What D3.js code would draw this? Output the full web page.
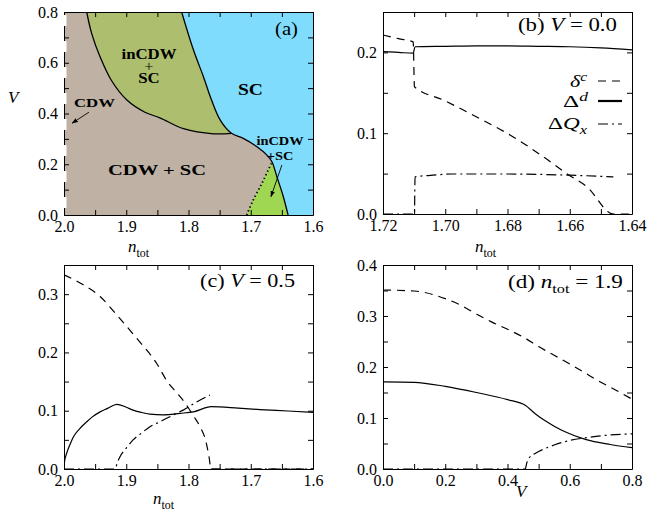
<!DOCTYPE html>
<html>
<head>
<meta charset="utf-8">
<script src="https://cdn.jsdelivr.net/npm/d3@7"></script>
<style>
  body { margin: 0; background: #fff; }
  svg { display: block; }
  text { font-family: "Liberation Serif", "DejaVu Serif", serif; fill: #000; }
</style>
</head>
<body>
<svg id="fig" width="648" height="515"></svg>
<script>
// ---------- data ----------
// (a) phase diagram, points are [n_tot, V]
var boundaryCdwIncdw = [[1.9635,0.80],[1.9555,0.715],[1.942,0.623],[1.924,0.531],[1.899,0.453],[1.870,0.405],[1.846,0.383],[1.808,0.340],[1.760,0.320],[1.731,0.322]];
var boundaryScTop    = [[1.811,0.80],[1.792,0.65],[1.776,0.545],[1.763,0.453],[1.749,0.374],[1.731,0.322]];
var boundaryScBottom = [[1.712,0.302],[1.690,0.269],[1.674,0.236],[1.666,0.21],[1.658,0.151],[1.648,0.075],[1.640,0.0]];
var boundaryDotted   = [[1.7065,0.0],[1.696,0.059],[1.682,0.125],[1.672,0.177],[1.666,0.207]];

// (b) V = 0.0, points are [n_tot, value]
var bDeltaC = [[1.72,0.2215],[1.715,0.217],[1.7103,0.213],[1.7099,0.1575],[1.7006,0.141],[1.6899,0.120],[1.6792,0.0978],[1.6685,0.0709],[1.661,0.050],[1.6545,0.0338],[1.646,0.0],[1.64,0.0]];
var bDeltaD = [[1.72,0.201],[1.715,0.200],[1.7103,0.199],[1.7097,0.207],[1.70,0.2075],[1.69,0.208],[1.68,0.208],[1.67,0.2075],[1.66,0.207],[1.65,0.2055],[1.64,0.203]];
var bDQx    = [[1.72,0.0],[1.7099,0.0],[1.7097,0.046],[1.704,0.048],[1.698,0.0495],[1.68,0.0495],[1.66,0.048],[1.646,0.046]];

// (c) V = 0.5
var cDeltaC = [[2.0,0.333],[1.969,0.316],[1.942,0.296],[1.915,0.264],[1.883,0.224],[1.851,0.181],[1.834,0.150],[1.819,0.131],[1.806,0.114],[1.792,0.091],[1.7815,0.0726],[1.772,0.047],[1.7666,0.018],[1.764,0.0],[1.6,0.0]];
var cDeltaD = [[2.0,0.0],[1.999,0.014],[1.9957,0.027],[1.99,0.043],[1.985,0.055],[1.975,0.069],[1.9635,0.081],[1.955,0.089],[1.942,0.098],[1.93,0.104],[1.915,0.111],[1.90,0.106],[1.889,0.101],[1.875,0.097],[1.862,0.094],[1.8405,0.093],[1.8137,0.0955],[1.792,0.098],[1.7635,0.107],[1.72,0.1045],[1.685,0.102],[1.64,0.0995],[1.60,0.097]];
var cDQx    = [[2.0,0.0],[1.918,0.0],[1.914,0.012],[1.91,0.021],[1.9,0.036],[1.889,0.050],[1.875,0.062],[1.862,0.0726],[1.848,0.080],[1.835,0.087],[1.82,0.095],[1.8084,0.101],[1.787,0.115],[1.7655,0.127]];
var cDQxTail = [[1.764,0.0],[1.6,0.0]];

// (d) n_tot = 1.9, points are [V, value]
var dDeltaC = [[0,0.351],[0.1,0.349],[0.2,0.334],[0.25,0.321],[0.3,0.304],[0.35,0.288],[0.4,0.274],[0.45,0.259],[0.5,0.24],[0.55,0.223],[0.6,0.206],[0.65,0.188],[0.7,0.170],[0.75,0.154],[0.8,0.137]];
var dDeltaD = [[0,0.171],[0.1,0.170],[0.2,0.162],[0.3,0.150],[0.4,0.136],[0.457,0.125],[0.49,0.108],[0.52,0.095],[0.55,0.084],[0.585,0.073],[0.65,0.058],[0.73,0.048],[0.8,0.042]];
var dDQx    = [[0,0.0],[0.457,0.0],[0.462,0.012],[0.47,0.022],[0.49,0.031],[0.52,0.040],[0.55,0.047],[0.6,0.056],[0.65,0.061],[0.7,0.065],[0.8,0.069]];

// colours of the phases
var colCdwSc = "#bfb1a3", colIncdw = "#adbe6e", colSc = "#80dcfc", colIncdw2 = "#9fd752";

var DASH = "8,6", DASHDOT = "10,4,2,4";

var svg = d3.select("#fig");

// ---------- helpers ----------
function tickList(dom, step) {
  var lo = Math.min(dom[0], dom[1]), hi = Math.max(dom[0], dom[1]);
  var n = Math.round((hi - lo) / step);
  return d3.range(n + 1).map(function(i) { return +(lo + i * step).toFixed(6); });
}
function isMajor(v, step) { return Math.abs(v / step - Math.round(v / step)) < 1e-6; }

// text with italic / sub / sup pieces, optionally squeezed to a width
function rich(parent, x, y, parts, o) {
  o = o || {};
  var fs = o.size || 16;
  var t = parent.append("text").attr("font-size", fs);
  if (o.bold) t.attr("font-weight", "bold");
  var cur = 0;
  parts.forEach(function(p) {
    if (typeof p === "string") p = {t: p};
    var ts = t.append("tspan").text(p.t);
    var want = p.sub ? fs * 0.3 : (p.sup ? -fs * 0.38 : 0);
    if (want !== cur) { ts.attr("dy", want - cur); cur = want; }
    if (p.sub || p.sup) ts.attr("font-size", fs * 0.7);
    if (p.i) ts.attr("font-style", "italic");
    if (p.dx) ts.attr("dx", p.dx);
  });
  var s = 1;
  if (o.w) { s = o.w / t.node().getBBox().width; }
  var x0 = x;
  if (o.anchor === "end") x0 = x - (o.w || t.node().getBBox().width);
  if (o.anchor === "middle") x0 = x - (o.w || t.node().getBBox().width) / 2;
  t.attr("transform", "translate(" + x0 + "," + y + ") scale(" + s + ",1)");
  return t;
}

// several centred lines in one text element
function stacked(parent, cx, y, lines, sx) {
  var t = parent.append("text").attr("text-anchor", "middle")
    .attr("transform", "translate(" + cx + "," + y + ") scale(" + sx + ",1)");
  lines.forEach(function(l, i) {
    t.append("tspan").attr("x", 0).attr("dy", i ? l.dy : 0)
      .attr("font-size", l.size).attr("font-weight", l.bold ? "bold" : null).text(l.t);
  });
  return t;
}

var panelId = 0;
function makePanel(p) {
  var x = d3.scaleLinear().domain(p.xd).range([p.x0, p.x1]);
  var y = d3.scaleLinear().domain(p.yd).range([p.y1, p.y0]);
  var g = svg.append("g");
  var cid = "clip" + (panelId++);
  svg.append("clipPath").attr("id", cid).append("rect")
    .attr("x", p.x0).attr("y", p.y0).attr("width", p.x1 - p.x0).attr("height", p.y1 - p.y0);
  var plot = g.append("g").attr("clip-path", "url(#" + cid + ")");
  return {p: p, x: x, y: y, g: g, plot: plot};
}

function drawAxes(P) {
  var p = P.p, x = P.x, y = P.y;
  var xt = tickList(p.xd, p.xs), yt = tickList(p.yd, p.ys);
  var ax = P.g.append("g");
  ax.append("g").attr("transform", "translate(0," + p.y1 + ")")
    .call(d3.axisBottom(x).tickValues(xt).tickSize(-5).tickSizeOuter(0).tickPadding(6)
      .tickFormat(function(v) { return isMajor(v, p.xl) ? d3.format(p.xf)(v) : ""; }));
  ax.append("g").attr("transform", "translate(0," + p.y0 + ")")
    .call(d3.axisTop(x).tickValues(xt).tickSize(-5).tickSizeOuter(0).tickFormat(""));
  ax.append("g").attr("transform", "translate(" + p.x0 + ",0)")
    .call(d3.axisLeft(y).tickValues(yt).tickSize(-5).tickSizeOuter(0).tickPadding(6)
      .tickFormat(function(v) { return isMajor(v, p.yl) ? d3.format(p.yf)(v) : ""; }));
  ax.append("g").attr("transform", "translate(" + p.x1 + ",0)")
    .call(d3.axisRight(y).tickValues(yt).tickSize(-5).tickSizeOuter(0).tickFormat(""));
  ax.selectAll("g").attr("font-family", null).attr("font-size", 16);
  ax.selectAll("path.domain").attr("stroke", "#000").attr("stroke-width", 1);
  ax.selectAll(".tick line").attr("stroke", "#000").attr("stroke-width", 1);
}

function curve(P, data, dash, width) {
  P.plot.append("path").datum(data)
    .attr("d", d3.line().x(function(d) { return P.x(d[0]); }).y(function(d) { return P.y(d[1]); })
      .curve(d3.curveMonotoneX))
    .attr("fill", "none").attr("stroke", "#000")
    .attr("stroke-width", width || 1.2)
    .attr("stroke-dasharray", dash || null);
}

// arrow head
svg.append("defs").append("marker").attr("id", "arr")
  .attr("viewBox", "0 0 10 10").attr("refX", 9).attr("refY", 5)
  .attr("markerWidth", 7).attr("markerHeight", 7).attr("orient", "auto")
  .append("path").attr("d", "M0,1.5 L10,5 L0,8.5 Z").attr("fill", "#000");

// ---------- panel (a): phase diagram ----------
var A = makePanel({x0: 64, x1: 313, y0: 12, y1: 215, xd: [2.0, 1.6], yd: [0, 0.8],
  xs: 0.05, xl: 0.1, xf: ".1f", ys: 0.1, yl: 0.2, yf: ".1f"});
var bline = d3.line().x(function(d) { return A.x(d[0]); }).y(function(d) { return A.y(d[1]); })
  .curve(d3.curveCatmullRom);
var scBoundary = boundaryScTop.concat(boundaryScBottom);

A.plot.append("rect").attr("x", 64).attr("y", 12).attr("width", 249).attr("height", 203).attr("fill", colCdwSc);
// inCDW + SC (upper)
A.plot.append("path")
  .attr("d", bline(boundaryCdwIncdw) + "L" + A.x(1.6) + "," + A.y(0.322) + "L" + A.x(1.6) + "," + A.y(0.8) + "Z")
  .attr("fill", colIncdw);
// inCDW + SC (lower, small)
var lastDot = boundaryDotted[boundaryDotted.length - 1];
A.plot.append("path")
  .attr("d", bline(boundaryDotted) + "L" + A.x(1.62) + "," + A.y(lastDot[1]) + "L" + A.x(1.62) + "," + A.y(0) + "Z")
  .attr("fill", colIncdw2);
// SC
A.plot.append("path")
  .attr("d", bline(scBoundary) + "L" + A.x(1.6) + "," + A.y(0) + "L" + A.x(1.6) + "," + A.y(0.8) + "Z")
  .attr("fill", colSc);
// boundaries
A.plot.append("path").attr("d", bline(boundaryCdwIncdw)).attr("fill", "none").attr("stroke", "#000").attr("stroke-width", 1.3);
A.plot.append("path").attr("d", bline(scBoundary)).attr("fill", "none").attr("stroke", "#000").attr("stroke-width", 1.3);
A.plot.append("path").attr("d", bline(boundaryDotted)).attr("fill", "none").attr("stroke", "#000")
  .attr("stroke-width", 1.8).attr("stroke-dasharray", "1.3,2.7");
drawAxes(A);
// CDW only at n_tot = 2 : white dashed edge
A.g.append("line").attr("x1", A.x(2.0) + 1).attr("x2", A.x(2.0) + 1).attr("y1", A.y(0.8)).attr("y2", A.y(0))
  .attr("stroke", "#fff").attr("stroke-width", 3).attr("stroke-dasharray", "11,15").attr("stroke-dashoffset", 23);

stacked(A.g, 149, 59, [{t: "inCDW", size: 15, bold: 1}, {t: "+", size: 14, dy: 12}, {t: "SC", size: 15, bold: 1, dy: 12.5}], 1.12);
rich(A.g, 238, 95, ["SC"], {size: 16, bold: true, w: 25});
rich(A.g, 74, 107, ["CDW"], {size: 12, bold: true, w: 41});
rich(A.g, 108, 175, ["CDW + SC"], {size: 15, bold: true, w: 98});
stacked(A.g, 280, 145, [{t: "inCDW", size: 12, bold: 1}, {t: "+SC", size: 12, bold: 1, dy: 15}], 1.2);
rich(A.g, 275, 35, ["(a)"], {size: 18, w: 23});
A.g.append("line").attr("x1", A.x(1.960)).attr("y1", A.y(0.405)).attr("x2", A.x(1.987)).attr("y2", A.y(0.362))
  .attr("stroke", "#000").attr("stroke-width", 0.9).attr("marker-end", "url(#arr)");
A.g.append("line").attr("x1", A.x(1.650)).attr("y1", A.y(0.197)).attr("x2", A.x(1.6675)).attr("y2", A.y(0.072))
  .attr("stroke", "#000").attr("stroke-width", 0.9).attr("marker-end", "url(#arr)");
rich(svg, 8, 103, [{t: "V", i: 1}], {size: 17});
rich(svg, 128, 252, [{t: "n", i: 1}, {t: "tot", sub: 1}], {size: 17});

// ---------- panel (b) ----------
var B = makePanel({x0: 383, x1: 632, y0: 12, y1: 214, xd: [1.72, 1.64], yd: [0, 0.25],
  xs: 0.01, xl: 0.02, xf: ".2f", ys: 0.05, yl: 0.1, yf: ".1f"});
curve(B, bDeltaC, DASH);
curve(B, bDeltaD, null);
curve(B, bDQx, DASHDOT);
drawAxes(B);
rich(B.g, 518, 31, ["(b) ", {t: "V", i: 1}, " = 0.0"], {size: 18, w: 99});
rich(B.g, 588, 87, [{t: "δ", i: 1}, {t: "c", sup: 1, i: 1}], {size: 17, w: 18, anchor: "end"});
rich(B.g, 588, 107, ["Δ", {t: "d", sup: 1, i: 1}], {size: 17, w: 25, anchor: "end"});
rich(B.g, 588, 129, ["Δ", {t: "Q", i: 1}, {t: "x", sub: 1, i: 1}], {size: 17, w: 40, anchor: "end"});
[[81, DASH, 1.2], [101, null, 2.2], [124, DASHDOT, 1.2]].forEach(function(r) {
  B.g.append("line").attr("x1", 598).attr("x2", 622).attr("y1", r[0]).attr("y2", r[0])
    .attr("stroke", "#000").attr("stroke-width", r[2]).attr("stroke-dasharray", r[1]);
});
rich(svg, 475, 252, [{t: "n", i: 1}, {t: "tot", sub: 1}], {size: 17});

// ---------- panel (c) ----------
var C = makePanel({x0: 64, x1: 313, y0: 265, y1: 469, xd: [2.0, 1.6], yd: [0, 0.35],
  xs: 0.05, xl: 0.1, xf: ".1f", ys: 0.05, yl: 0.1, yf: ".1f"});
curve(C, cDeltaC, DASH);
curve(C, cDeltaD, null);
curve(C, cDQx, DASHDOT);
curve(C, cDQxTail, DASHDOT);
drawAxes(C);
rich(C.g, 200, 287, ["(c) ", {t: "V", i: 1}, " = 0.5"], {size: 18, w: 95});
rich(svg, 153, 504, [{t: "n", i: 1}, {t: "tot", sub: 1}], {size: 17});

// ---------- panel (d) ----------
var D = makePanel({x0: 383, x1: 632, y0: 265, y1: 469, xd: [0, 0.8], yd: [0, 0.4],
  xs: 0.1, xl: 0.2, xf: ".1f", ys: 0.05, yl: 0.1, yf: ".1f"});
curve(D, dDeltaC, DASH);
curve(D, dDeltaD, null);
curve(D, dDQx, DASHDOT);
drawAxes(D);
rich(D.g, 508, 288, ["(d) ", {t: "n", i: 1}, {t: "tot", sub: 1}, " = 1.9"], {size: 18, w: 115});
rich(svg, 516, 497, [{t: "V", i: 1}], {size: 17});
</script>
</body>
</html>
